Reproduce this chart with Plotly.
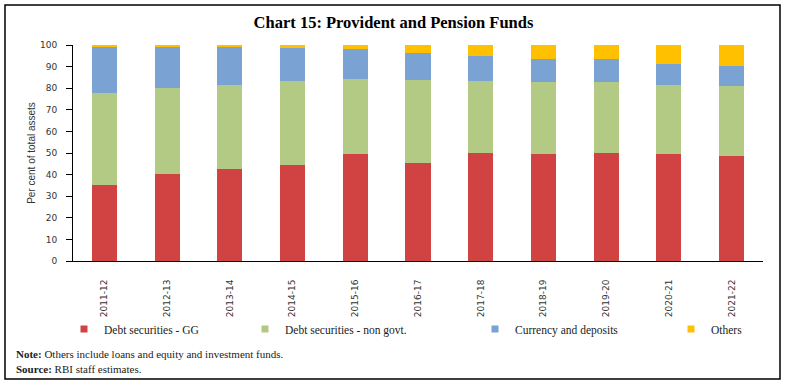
import plotly.graph_objects as go

years = ["2011-12", "2012-13", "2013-14", "2014-15", "2015-16", "2016-17",
         "2017-18", "2018-19", "2019-20", "2020-21", "2021-22"]
debt_gg = [35.4, 40.5, 42.8, 44.6, 49.7, 45.4, 50.0, 49.6, 50.0, 49.7, 48.8]
debt_non_govt = [42.2, 39.4, 38.6, 38.8, 34.5, 38.4, 33.4, 33.1, 32.8, 31.9, 32.0]
currency_deposits = [21.9, 19.3, 17.7, 15.3, 13.8, 12.6, 11.5, 10.8, 10.6, 9.6, 9.6]
others = [0.5, 0.8, 0.9, 1.3, 2.0, 3.6, 5.1, 6.5, 6.6, 8.8, 9.6]
y_ticks = [0, 10, 20, 30, 40, 50, 60, 70, 80, 90, 100]

series = [
    ("Debt securities - GG", debt_gg, "#D14343", "legend"),
    ("Debt securities - non govt.", debt_non_govt, "#B2CA83", "legend2"),
    ("Currency and deposits", currency_deposits, "#7AA2D3", "legend3"),
    ("Others", others, "#FFC000", "legend4"),
]

W, H = 787, 386
L, R, T, B = 73, 24, 45, 125
PW, PH = W - L - R, H - T - B

def px_x(p):
    return (p - L) / PW

def px_y(p):
    return (H - B - p) / PH

fig = go.Figure()
for name, vals, color, lg in series:
    fig.add_trace(go.Bar(x=years, y=vals, name=name, marker_color=color,
                         marker_line_width=0, showlegend=False))
for name, vals, color, lg in series:
    fig.add_trace(go.Scatter(x=[None], y=[None], mode="markers", name=name,
                             marker=dict(symbol="square", size=7, color=color),
                             legend=lg, showlegend=True))

legend_font = dict(family="Liberation Serif", size=11.5, color="#222")
marker_centers = [82, 263, 493, 689]
legends = {}
for i, (name, vals, color, lg) in enumerate(series):
    legends[lg] = dict(x=px_x(marker_centers[i] - 18), xanchor="left",
                       y=px_y(329), yanchor="middle", font=legend_font,
                       bgcolor="rgba(0,0,0,0)", borderwidth=0,
                       orientation="h", itemwidth=30)

fig.update_layout(
    width=W, height=H,
    margin=dict(l=L, r=R, t=T, b=B, autoexpand=False),
    paper_bgcolor="white", plot_bgcolor="white",
    barmode="stack", bargap=0.6,
    showlegend=True,
    **legends,
    xaxis=dict(type="category", tickangle=-90, showline=True, linecolor="black",
               linewidth=1, ticks="", showgrid=False, ticklabelstandoff=14,
               tickfont=dict(family="DejaVu Sans", size=9, color="#333")),
    yaxis=dict(range=[0, 100], tickvals=y_ticks, showline=True, linecolor="black",
               linewidth=1, ticks="outside", ticklen=6, tickcolor="black",
               showgrid=False, zeroline=False, ticklabelstandoff=7,
               tickfont=dict(family="DejaVu Sans", size=9, color="#333"),
               title=dict(text="Per cent of total assets", standoff=2,
                          font=dict(family="Liberation Sans", size=10, color="#333"))),
    title=dict(text="<b>Chart 15: Provident and Pension Funds</b>", x=0.5,
               xanchor="center", y=1 - 22 / H, yanchor="middle",
               font=dict(family="Liberation Serif", size=16.5, color="black")),
)

fig.add_shape(type="rect", xref="paper", yref="paper",
              x0=px_x(5), x1=px_x(780), y0=px_y(379), y1=px_y(5),
              line=dict(color="black", width=1.5), fillcolor="rgba(0,0,0,0)",
              layer="below")

fig.add_annotation(text="<b>Note:</b> Others include loans and equity and investment funds.",
                   xref="paper", yref="paper", x=px_x(14), y=px_y(354),
                   xanchor="left", yanchor="middle", showarrow=False,
                   font=dict(family="Liberation Serif", size=11, color="#222"))
fig.add_annotation(text="<b>Source:</b> RBI staff estimates.",
                   xref="paper", yref="paper", x=px_x(14), y=px_y(369),
                   xanchor="left", yanchor="middle", showarrow=False,
                   font=dict(family="Liberation Serif", size=11, color="#222"))

fig.write_html("out.html", config={"displayModeBar": False},
               post_script="document.body.style.margin='0';")
